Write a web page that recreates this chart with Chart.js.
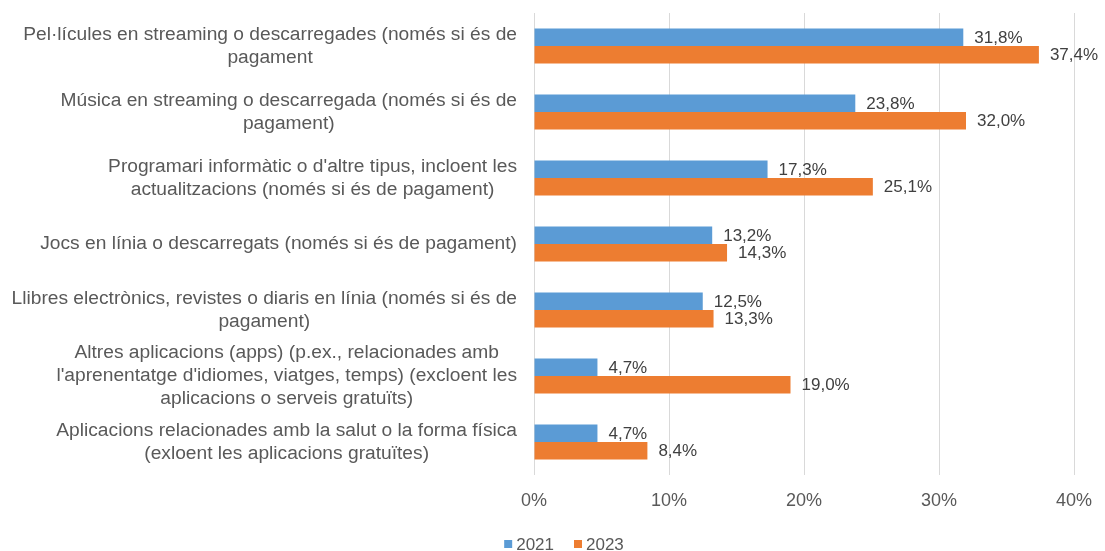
<!DOCTYPE html>
<html>
<head>
<meta charset="utf-8">
<script src="https://cdn.jsdelivr.net/npm/chart.js@4"></script>
<style>
  html, body { margin: 0; padding: 0; background: #fff; }
  #wrap { width: 1105px; height: 551px; }
</style>
</head>
<body>
<div id="wrap"><canvas id="myChart" width="1105" height="551"></canvas></div>
<script>
// categories (each one split in the lines shown on the chart)
const categories = [
  ["Pel·lícules en streaming o descarregades (només si és de", "pagament"],
  ["Música en streaming o descarregada (només si és de", "pagament)"],
  ["Programari informàtic o d'altre tipus, incloent les", "actualitzacions (només si és de pagament)"],
  ["Jocs en línia o descarregats (només si és de pagament)"],
  ["Llibres electrònics, revistes o diaris en línia (només si és de", "pagament)"],
  ["Altres aplicacions (apps) (p.ex., relacionades amb", "l'aprenentatge d'idiomes, viatges, temps) (excloent les", "aplicacions o serveis gratuïts)"],
  ["Aplicacions relacionades amb la salut o la forma física", "(exloent les aplicacions gratuïtes)"]
];
const seriesNames = ["2021", "2023"];
const values2021 = [31.8, 23.8, 17.3, 13.2, 12.5, 4.7, 4.7];
const values2023 = [37.4, 32.0, 25.1, 14.3, 13.3, 19.0, 8.4];
const xTicks = [0, 10, 20, 30, 40];

const FONT = "'Liberation Sans', Arial, sans-serif";
const TEXT = '#595959';

// category labels: block right-aligned to the axis, lines centred inside the block
const categoryLabels = {
  id: 'categoryLabels',
  afterDraw(chart) {
    const ctx = chart.ctx;
    const y = chart.scales.y;
    const right = chart.chartArea.left - 17;
    const lineH = 23;
    ctx.save();
    ctx.font = '19.2px ' + FONT;
    ctx.fillStyle = TEXT;
    ctx.textAlign = 'center';
    ctx.textBaseline = 'middle';
    categories.forEach((lines, i) => {
      const w = Math.max(...lines.map(l => ctx.measureText(l).width));
      const cx = right - w / 2;
      const cy = y.getPixelForValue(i);
      lines.forEach((l, j) => {
        ctx.fillText(l, cx, cy + (j - (lines.length - 1) / 2) * lineH);
      });
    });
    ctx.restore();
  }
};

// value labels at the end of each bar
const valueLabels = {
  id: 'valueLabels',
  afterDatasetsDraw(chart) {
    const ctx = chart.ctx;
    ctx.save();
    ctx.font = '17px ' + FONT;
    ctx.fillStyle = '#404040';
    ctx.textAlign = 'left';
    ctx.textBaseline = 'middle';
    chart.data.datasets.forEach((ds, d) => {
      chart.getDatasetMeta(d).data.forEach((bar, i) => {
        const txt = ds.data[i].toFixed(1).replace('.', ',') + '%';
        ctx.fillText(txt, bar.x + 11, bar.y + 1);
      });
    });
    ctx.restore();
  }
};

// legend under the axis: small squares, centred a bit right of the middle
const bottomLegend = {
  id: 'bottomLegend',
  afterDraw(chart) {
    const ctx = chart.ctx;
    ctx.save();
    ctx.font = '17px ' + FONT;
    ctx.textBaseline = 'middle';
    ctx.textAlign = 'left';
    const box = 8, gap = 4, spacing = 20, cy = 544, center = 564;
    const items = chart.data.datasets.map(ds => ({
      text: ds.label, color: ds.backgroundColor, w: box + gap + ctx.measureText(ds.label).width
    }));
    const total = items.reduce((a, it) => a + it.w, 0) + spacing * (items.length - 1);
    let x = center - total / 2;
    items.forEach(it => {
      ctx.fillStyle = it.color;
      ctx.fillRect(x, cy - box / 2, box, box);
      ctx.fillStyle = TEXT;
      ctx.fillText(it.text, x + box + gap, cy + 1);
      x += it.w + spacing;
    });
    ctx.restore();
  }
};

const ctx = document.getElementById('myChart').getContext('2d');
const chart = new Chart(ctx, {
  type: 'bar',
  data: {
    labels: categories,
    datasets: [
      {
        label: seriesNames[0],
        data: values2021,
        backgroundColor: '#5B9BD5',
        categoryPercentage: 0.53,
        barPercentage: 1
      },
      {
        label: seriesNames[1],
        data: values2023,
        backgroundColor: '#ED7D31',
        categoryPercentage: 0.53,
        barPercentage: 1
      }
    ]
  },
  options: {
    indexAxis: 'y',
    responsive: false,
    animation: false,
    layout: { padding: { top: 13, right: 31, left: 0, bottom: 0 } },
    scales: {
      x: {
        min: 0,
        max: 40,
        afterBuildTicks: s => { s.ticks = xTicks.map(v => ({ value: v })); },
        afterFit: s => { s.height = 76; s.paddingLeft = 0; s.paddingRight = 0; },
        grid: { color: '#d9d9d9', lineWidth: 1, drawTicks: false },
        border: { display: false },
        ticks: {
          padding: 15,
          color: TEXT,
          font: { family: FONT, size: 18 },
          callback: v => v + '%'
        }
      },
      y: {
        grid: { display: false },
        border: { display: false },
        ticks: { display: false },
        afterFit: s => { s.width = 534; }
      }
    },
    plugins: {
      legend: { display: false },
      tooltip: { enabled: false }
    }
  },
  plugins: [categoryLabels, valueLabels, bottomLegend]
});
</script>
</body>
</html>
